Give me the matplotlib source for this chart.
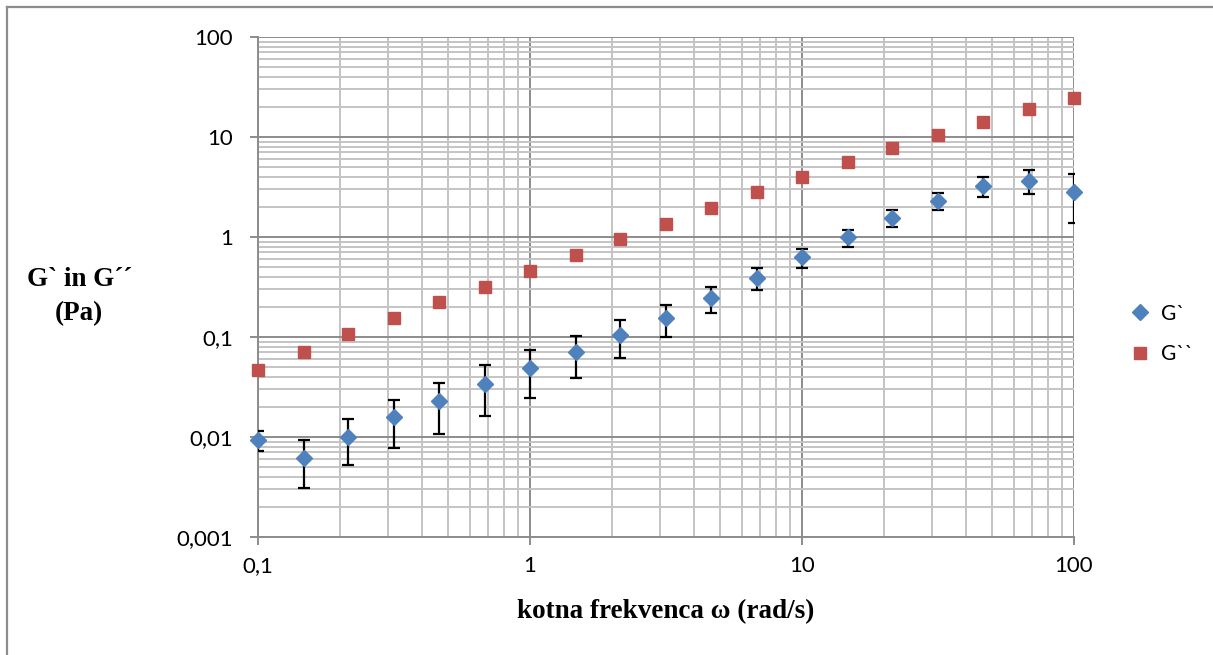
import numpy as np
import matplotlib.pyplot as plt
from matplotlib.lines import Line2D
from matplotlib.ticker import FixedLocator, FuncFormatter, LogLocator, NullFormatter

# angular frequency (rad/s), 6 points per decade
omega = [0.1, 0.147, 0.215, 0.316, 0.464, 0.681, 1.0, 1.47, 2.15, 3.16,
         4.64, 6.81, 10.0, 14.7, 21.5, 31.6, 46.4, 68.1, 100.0]

# storage modulus G` (Pa) with standard deviation
g1 = [0.0094, 0.0062, 0.0101, 0.0157, 0.0229, 0.0342, 0.0488, 0.0706, 0.104, 0.156,
      0.244, 0.391, 0.625, 0.99, 1.56, 2.31, 3.22, 3.66, 2.84]
g1_err = [0.00215, 0.0031, 0.0049, 0.008, 0.0121, 0.0178, 0.0245, 0.032, 0.0425, 0.055,
          0.07, 0.094, 0.13, 0.19, 0.29, 0.43, 0.72, 0.97, 1.45]

# loss modulus G`` (Pa)
g2 = [0.047, 0.0716, 0.106, 0.154, 0.222, 0.315, 0.456, 0.66, 0.955, 1.35,
      1.95, 2.83, 4.0, 5.6, 7.74, 10.5, 14.1, 18.9, 24.5]

blue = '#4F81BD'
red = '#C0504D'
tick_font = 'Lato'

W, H = 1213, 655
fig = plt.figure(figsize=(W / 100, H / 100), dpi=100)
ax = fig.add_axes([258 / W, (H - 537) / H, 816 / W, 500 / H])

ax.set_xscale('log')
ax.set_yscale('log')
ax.set_xlim(0.1, 100)
ax.set_ylim(0.001, 100)

# grid: light minor lines, darker major lines
ax.grid(True, which='minor', color='#C4C4C4', lw=1.4, zorder=0)
ax.grid(True, which='major', color='#8C8C8C', lw=1.4, zorder=0)
ax.set_axisbelow(True)
ax.xaxis.set_minor_locator(LogLocator(base=10, subs=np.arange(2, 10)))
ax.yaxis.set_minor_locator(LogLocator(base=10, subs=np.arange(2, 10)))
ax.xaxis.set_minor_formatter(NullFormatter())
ax.yaxis.set_minor_formatter(NullFormatter())

def comma_fmt(v, pos):
    s = ('%g' % v) if v >= 1 else ('%.3f' % v).rstrip('0')
    return s.replace('.', ',')

ax.xaxis.set_major_locator(FixedLocator([0.1, 1, 10, 100]))
ax.yaxis.set_major_locator(FixedLocator([0.001, 0.01, 0.1, 1, 10, 100]))
ax.xaxis.set_major_formatter(FuncFormatter(comma_fmt))
ax.yaxis.set_major_formatter(FuncFormatter(comma_fmt))
ax.tick_params(which='minor', length=0)
ax.tick_params(which='major', length=6, width=1.4, color='#8C8C8C', labelsize=16)
ax.tick_params(axis='x', which='major', pad=8)
ax.tick_params(axis='y', which='major', pad=12)
for lab in ax.get_xticklabels() + ax.get_yticklabels():
    lab.set_fontfamily(tick_font)

for side in ['top', 'right']:
    ax.spines[side].set_visible(False)
for side in ['left', 'bottom']:
    ax.spines[side].set_color('#8C8C8C')
    ax.spines[side].set_linewidth(1.4)

ax.errorbar(omega, g1, yerr=g1_err, fmt='none', ecolor='black',
            elinewidth=1.6, capsize=4.5, capthick=1.6, zorder=3)
ax.plot(omega, g1, 'D', color=blue, ms=8.3, mec=blue, label='G`', zorder=4,
        clip_on=False)
ax.plot(omega, g2, 's', color=red, ms=8.6, mec=red, label='G``', zorder=4,
        clip_on=False)

ax.set_xlabel('kotna frekvenca ω (rad/s)', fontsize=19.5, fontweight='bold',
              fontfamily='Liberation Serif', labelpad=16)

fig.text(80 / W, 1 - 279 / H, 'G` in G´´', fontsize=19.5, fontweight='bold',
         fontfamily='Liberation Serif', ha='center', va='center')
fig.text(79 / W, 1 - 314 / H, '(Pa)', fontsize=19.5, fontweight='bold',
         fontfamily='Liberation Serif', ha='center', va='center')

leg = fig.legend(loc='center left', bbox_to_anchor=(1111 / W, 1 - 334 / H),
                 frameon=False, handlelength=1.0, handletextpad=0.5,
                 labelspacing=1.0, prop={'family': tick_font, 'size': 15})

# outer chart border (only the top and left edges fall inside the image)
border = dict(color='#8C8C8C', lw=1.6, transform=fig.transFigure)
fig.lines.append(Line2D([7 / W, 1], [1 - 7 / H, 1 - 7 / H], **border))
fig.lines.append(Line2D([7 / W, 7 / W], [0, 1 - 7 / H], **border))

fig.savefig('out.png', dpi=100)
